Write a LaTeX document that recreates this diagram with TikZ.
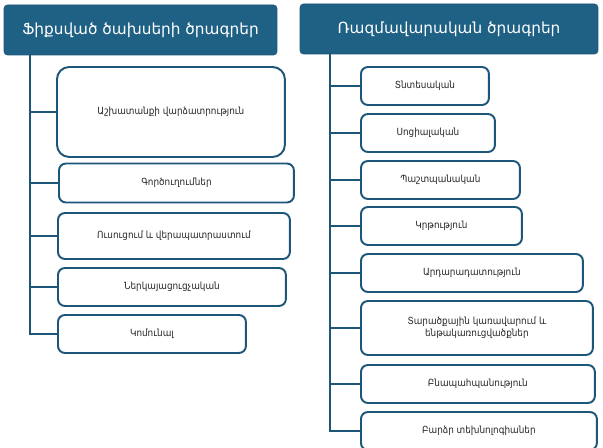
\documentclass[tikz,border=0pt]{standalone}
\usepackage{fontspec}
\setmainfont{DejaVu Sans}
\newfontfamily\condfont{DejaVu Sans Condensed}
\usetikzlibrary{positioning}
\definecolor{hdrblue}{RGB}{31,96,133}
\definecolor{lineblue}{RGB}{28,86,120}
\tikzset{hdr/.style={draw=lineblue,fill=hdrblue,rounded corners=2pt,text=white,font=\fontsize{8.7}{10}\selectfont,inner sep=0pt},
item/.style={draw=lineblue,line width=1.1pt,fill=white,rounded corners=4pt,anchor=west,minimum height=0.76cm,inner sep=0pt,font=\condfont\fontsize{5.6}{7}\selectfont,text=black!85}}

\begin{document}
\begin{tikzpicture}[x=0.02cm,y=-0.02cm]
		\clip (0,0) rectangle (603,448);
		\fill[white] (0,0) rectangle (603,448);

		% headers
		\node[hdr,minimum width=5.46cm,minimum height=1cm] (fix) at (140.5,30) {Ֆիքսված ծախսերի ծրագրեր};
		\node[hdr,minimum width=5.96cm,minimum height=1cm] (strat) at (449,29) {Ռազմավարական ծրագրեր};

		% left column
		\node[item,minimum width=4.56cm,minimum height=1.8cm,rounded corners=7pt] (f1) at (56,112) {Աշխատանքի վարձատրություն};
		\node[item,minimum width=4.7cm,minimum height=0.78cm] (f2) at (58,183) {Գործուղումներ};
		\node[item,minimum width=4.64cm,minimum height=0.92cm] (f3) at (57,236) {Ուսուցում և վերապատրաստում};
		\node[item,minimum width=4.56cm] (f4) at (57,287) {Ներկայացուցչական};
		\node[item,minimum width=3.76cm] (f5) at (57,334) {Կոմունալ};

		% right column
		\node[item,minimum width=2.56cm] (s1) at (360,86) {Տնտեսական};
		\node[item,minimum width=2.68cm] (s2) at (360,133) {Սոցիալական};
		\node[item,minimum width=3.18cm] (s3) at (360,180) {Պաշտպանական};
		\node[item,minimum width=3.22cm] (s4) at (360,226) {Կրթություն};
		\node[item,minimum width=4.44cm] (s5) at (360,273) {Արդարադատություն};
		\node[item,minimum width=4.64cm,minimum height=1.08cm,align=center] (s6) at (360,328) {Տարածքային կառավարում և\\ենթակառուցվածքներ};
		\node[item,minimum width=4.68cm] (s7) at (360,384) {Բնապահպանություն};
		\node[item,minimum width=4.72cm] (s8) at (360,431) {Բարձր տեխնոլոգիաներ};

		% connectors
		\coordinate (lspine) at (30,55);
		\coordinate (rspine) at (330,54);
		\draw[lineblue,line width=1.1pt] (lspine) |- (f5.west);
		\draw[lineblue,line width=1.1pt] (rspine) |- (s8.west);
		\foreach \n in {f1,f2,f3,f4}
			\draw[lineblue,line width=1.1pt] (\n.west -| lspine) -- (\n.west);
		\foreach \n in {s1,s2,s3,s4,s5,s6,s7}
			\draw[lineblue,line width=1.1pt] (\n.west -| rspine) -- (\n.west);
	\end{tikzpicture}
\end{document}
